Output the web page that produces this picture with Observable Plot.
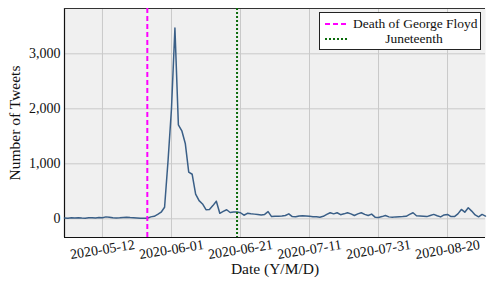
<!DOCTYPE html>
<html>
<head>
<meta charset="utf-8">
<script src="https://cdn.jsdelivr.net/npm/d3@7"></script>
<script src="https://cdn.jsdelivr.net/npm/@observablehq/plot@0.6"></script>
<style>
  body { margin: 0; background: #fff; }
  #wrap { position: relative; width: 487px; height: 282px; font-family: "Liberation Serif", serif; }
  #wrap svg { display: block; }
  #legend { position: absolute; left: 319px; top: 12px; width: 162px; height: 38px; background: #fff; border: 1px solid #222; box-sizing: border-box; font-size: 13.5px; color: #111; }
  #legend .sample { position: absolute; left: 5px; width: 22px; height: 6px; }
  #legend .lab { position: absolute; left: 33px; width: 122px; text-align: center; line-height: 14px; white-space: nowrap; }
</style>
</head>
<body>
<div id="wrap"></div>
<script>
// ---- data ----
const startDate = "2020-05-01";
const endDate = "2020-08-31";
// daily tweet counts, May 1 .. Aug 31 2020
const tweetCounts = [
  // May
  15,12,18,14,20,15,12,18,20,15,22,20,35,28,20,15,18,25,30,22,18,15,12,10,10,35,45,80,120,210,1050,
  // June
  2000,3470,1710,1600,1370,850,810,450,330,270,165,170,240,320,100,135,165,115,125,125,110,65,100,90,85,80,70,80,130,40,
  // July
  45,45,50,60,90,40,36,50,55,50,45,38,36,30,45,80,110,90,110,75,90,110,90,60,90,110,80,60,85,30,25,
  // August
  40,60,35,30,35,38,40,45,80,110,55,50,45,40,60,80,55,35,70,80,40,40,90,170,120,200,140,70,36,80,50
];
const xTickLabels = ["2020-05-12","2020-06-01","2020-06-21","2020-07-11","2020-07-31","2020-08-20"];
const yTicks = [0, 1000, 2000, 3000];
const yDomain = [-340, 3824];
const eventNames = ["Death of George Floyd", "Juneteenth"];
const eventDates = ["2020-05-25", "2020-06-20"];
const xLabel = "Date (Y/M/D)";
const yLabel = "Number of Tweets";

// ---- styles ----
const eventColors = ["#ff00ff", "#0b6b0b"];
const eventDash = ["5,3", "2,2"];
const lineColor = "#3a5f87";

const t0 = new Date(startDate);
const data = tweetCounts.map((v, i) => ({date: d3.utcDay.offset(t0, i), count: v}));
const xTicks = xTickLabels.map(s => new Date(s));
const fmt = d3.utcFormat("%Y-%m-%d");

const chart = Plot.plot({
  width: 487,
  height: 282,
  marginTop: 8,
  marginBottom: 45,
  marginLeft: 64,
  marginRight: 2,
  style: {fontFamily: "'Liberation Serif', serif", fontSize: "14px", color: "#111", background: "transparent", overflow: "visible"},
  x: {type: "utc", domain: [t0, new Date(endDate)], axis: null},
  y: {domain: yDomain},
  marks: [
    Plot.frame({fill: "#f0f0f0", stroke: null}),
    Plot.gridX(xTicks, {stroke: "#c9c9c9", strokeOpacity: 1, strokeWidth: 1}),
    Plot.gridY(yTicks, {stroke: "#c9c9c9", strokeOpacity: 1, strokeWidth: 1}),
    Plot.ruleX([t0], {stroke: "#111", strokeWidth: 1.2}),
    Plot.ruleY([yDomain[0]], {stroke: "#111", strokeWidth: 1.2}),
    Plot.ruleY([yDomain[1]], {stroke: "#333", strokeWidth: 1}),
    Plot.axisY(yTicks, {tickSize: 0, tickPadding: 4, tickFormat: d3.format(","), label: null, fontSize: 14}),
    Plot.text(xTicks, {x: d => d, text: d => fmt(d), frameAnchor: "bottom", lineAnchor: "middle", textAnchor: "middle", dy: 12, rotate: -9, fontSize: 14, fill: "#111"}),
    Plot.text([xLabel], {text: d => d, frameAnchor: "bottom", lineAnchor: "middle", dy: 32, fontSize: 15.5, fill: "#111"}),
    Plot.text([yLabel], {text: d => d, frameAnchor: "left", lineAnchor: "middle", textAnchor: "middle", dx: -49, rotate: -90, fontSize: 15.5, fill: "#111"}),
    Plot.line(data, {x: "date", y: "count", stroke: lineColor, strokeWidth: 1.5}),
    Plot.ruleX([new Date(eventDates[0])], {stroke: eventColors[0], strokeWidth: 2, strokeDasharray: eventDash[0]}),
    Plot.ruleX([new Date(eventDates[1])], {stroke: eventColors[1], strokeWidth: 2, strokeDasharray: eventDash[1]})
  ]
});

const wrap = document.getElementById("wrap");
wrap.appendChild(chart);

// legend
const legend = document.createElement("div");
legend.id = "legend";
eventNames.forEach((name, i) => {
  const cy = [11, 26][i];
  const s = document.createElementNS("http://www.w3.org/2000/svg", "svg");
  s.setAttribute("class", "sample");
  s.setAttribute("width", 22);
  s.setAttribute("height", 6);
  s.style.top = (cy - 3) + "px";
  const ln = document.createElementNS("http://www.w3.org/2000/svg", "line");
  ln.setAttribute("x1", 0); ln.setAttribute("x2", 22);
  ln.setAttribute("y1", 3); ln.setAttribute("y2", 3);
  ln.setAttribute("stroke", eventColors[i]);
  ln.setAttribute("stroke-width", 2);
  ln.setAttribute("stroke-dasharray", eventDash[i]);
  s.appendChild(ln);
  legend.appendChild(s);
  const lab = document.createElement("div");
  lab.className = "lab";
  lab.style.top = (cy - 7) + "px";
  lab.textContent = name;
  legend.appendChild(lab);
});
wrap.appendChild(legend);
</script>
</body>
</html>
